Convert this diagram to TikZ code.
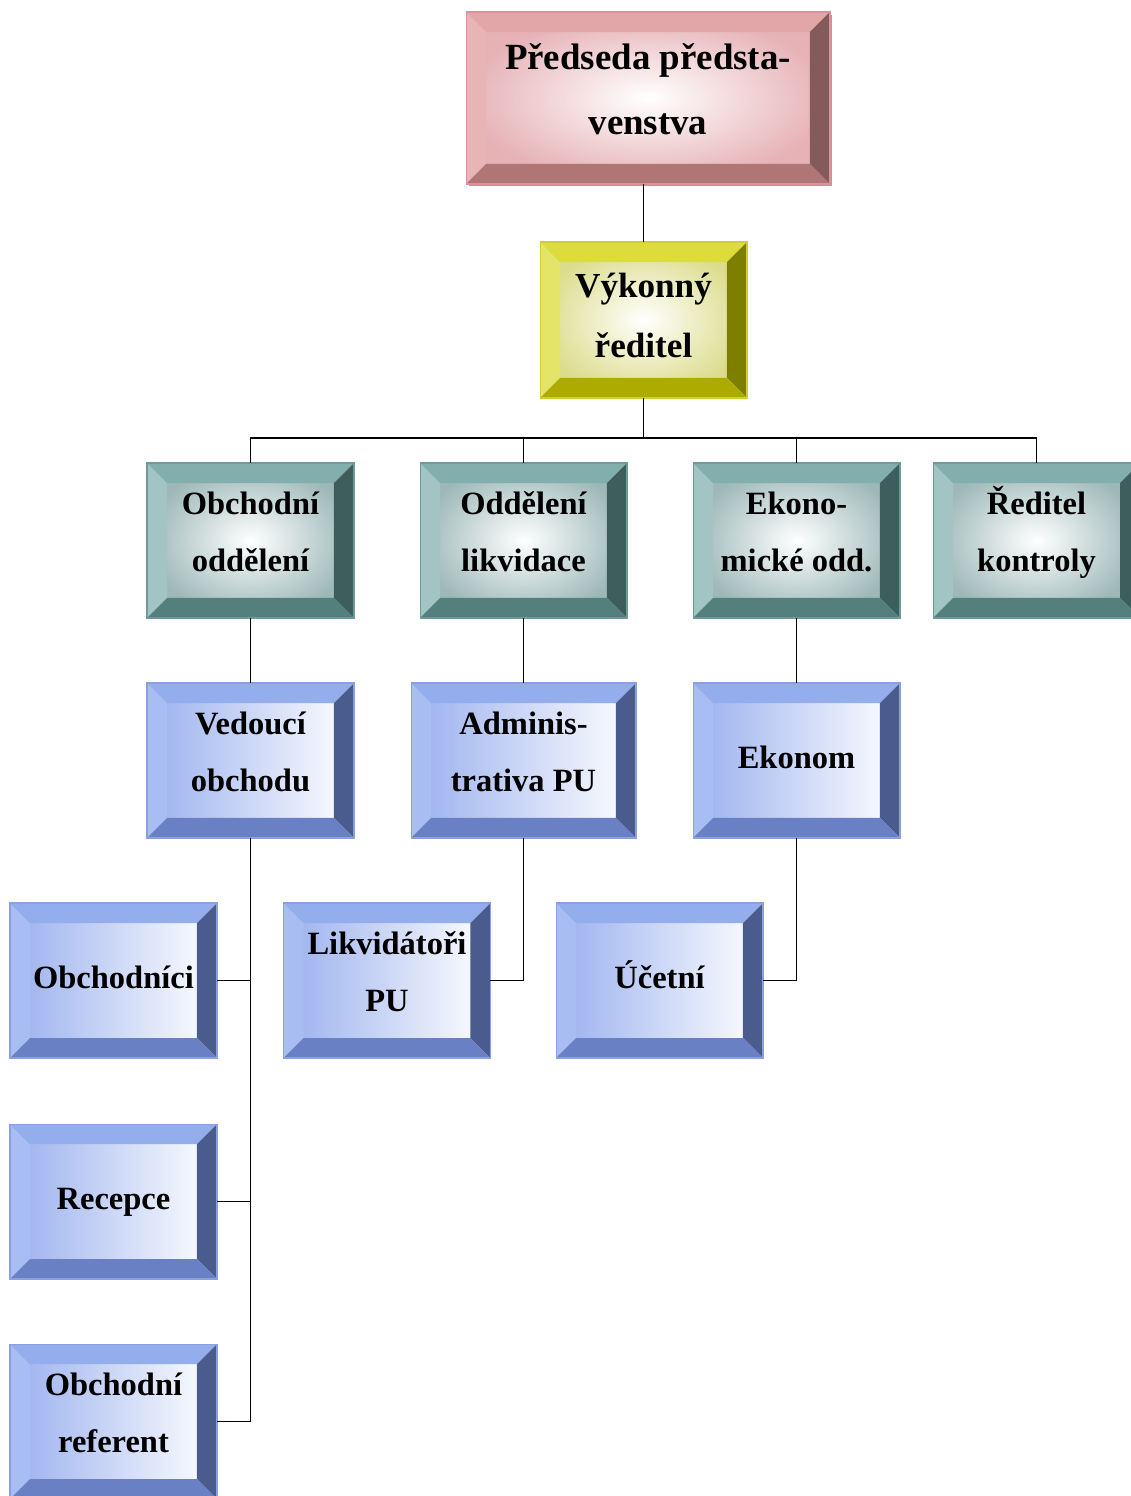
\documentclass[tikz,border=0pt]{standalone}
\usepackage{fontspec}
\setmainfont{Liberation Serif}
\usetikzlibrary{positioning,calc,shadows}
\definecolor{pinkL}{HTML}{E8B4B6}
\definecolor{pinkT}{HTML}{E2A6A8}
\definecolor{pinkR}{HTML}{845A5A}
\definecolor{pinkB}{HTML}{B07676}
\definecolor{pinkIn}{HTML}{E6B2B6}
\definecolor{pinkLine}{HTML}{D8949A}
\definecolor{yelL}{HTML}{E4E468}
\definecolor{yelT}{HTML}{DCDC3C}
\definecolor{yelR}{HTML}{7E7E00}
\definecolor{yelB}{HTML}{ABAB00}
\definecolor{yelIn}{HTML}{DCDC8C}
\definecolor{yelLine}{HTML}{CFCF30}
\definecolor{tealL}{HTML}{A2C4C2}
\definecolor{tealT}{HTML}{82AFAD}
\definecolor{tealR}{HTML}{3E5E5D}
\definecolor{tealB}{HTML}{537F7D}
\definecolor{tealIn}{HTML}{9DB8B7}
\definecolor{tealLine}{HTML}{6E9A98}
\definecolor{bluL}{HTML}{A8BEF2}
\definecolor{bluT}{HTML}{93ADED}
\definecolor{bluR}{HTML}{4A5C8E}
\definecolor{bluB}{HTML}{6A80C4}
\definecolor{bluIn}{HTML}{9AB0EE}
\definecolor{bluLine}{HTML}{8AA0E0}
\tikzset{
  orgbox/.style={
    rectangle, minimum width=4.14cm, minimum height=3.1cm,
    text height=2.17cm, text depth=0.93cm,
    inner sep=0pt, outer sep=0pt, align=center, line width=0.6pt,
    font=\fontsize{18.5}{32.5}\selectfont\bfseries
  },
  oneline/.style={text height=1.70cm, text depth=1.40cm},
  bevel/.style n args={4}{path picture={
    \coordinate (sw) at (path picture bounding box.south west);
    \coordinate (ne) at (path picture bounding box.north east);
    \coordinate (nw) at (sw |- ne);
    \coordinate (se) at (ne |- sw);
    \fill[#1] (sw) -- (nw) -- ([shift={(0.4cm,-0.4cm)}]nw) -- ([shift={(0.4cm,0.4cm)}]sw) -- cycle;
    \fill[#2] (nw) -- (ne) -- ([shift={(-0.4cm,-0.4cm)}]ne) -- ([shift={(0.4cm,-0.4cm)}]nw) -- cycle;
    \fill[#3] (ne) -- (se) -- ([shift={(-0.4cm,0.4cm)}]se) -- ([shift={(-0.4cm,-0.4cm)}]ne) -- cycle;
    \fill[#4] (sw) -- (se) -- ([shift={(-0.4cm,0.4cm)}]se) -- ([shift={(0.4cm,0.4cm)}]sw) -- cycle;
  }},
  pinkbox/.style={orgbox, draw=pinkLine, inner color=white, outer color=pinkIn,
    bevel={pinkL}{pinkT}{pinkR}{pinkB},
    drop shadow={shadow xshift=0.05cm, shadow yshift=-0.05cm, fill=pinkR, opacity=0.6},
    text height=2.46cm, text depth=0.98cm,
    font=\fontsize{21}{37}\selectfont\bfseries},
  yelbox/.style={orgbox, draw=yelLine, inner color=white, outer color=yelIn,
    bevel={yelL}{yelT}{yelR}{yelB}, text height=2.32cm, text depth=0.80cm,
    font=\fontsize{20}{34.6}\selectfont\bfseries},
  tealbox/.style={orgbox, draw=tealLine, inner color=white, outer color=tealIn,
    bevel={tealL}{tealT}{tealR}{tealB}},
  blubox/.style={orgbox, draw=bluLine, left color=bluIn, right color=white,
    bevel={bluL}{bluT}{bluR}{bluB}},
  conn/.style={draw=black, line width=1.1pt},
}
\begin{document}
\begin{tikzpicture}[x=0.02cm, y=-0.02cm]
  \useasboundingbox (0,0) rectangle (1131,1496);
  \coordinate (bus) at (643.5,438);
  \node (board) [pinkbox, minimum width=7.28cm, minimum height=3.44cm] at (648,98) {Předseda předsta-\\venstva};
  \node (ceo) [yelbox, minimum height=3.12cm] at (643.5,320) {Výkonný\\ředitel};
  \node (sales) [tealbox] at (250.5,540.5) {Obchodní\\oddělení};
  \node (liq) [tealbox] at (523.5,540.5) {Oddělení\\likvidace};
  \node (econ) [tealbox] at (796.5,540.5) {Ekono-\\mické odd.};
  \node (audit) [tealbox] at (1036.5,540.5) {Ředitel\\kontroly};
  \node (salesmgr) [blubox] at (250.5,760.5) {Vedoucí\\obchodu};
  \node (admin) [blubox, minimum width=4.5cm] at (523.5,760.5) {Adminis-\\trativa PU};
  \node (economist) [blubox, oneline] at (796.5,760.5) {Ekonom};
  \node (traders) [blubox, oneline] at (113.5,980.5) {Obchodníci};
  \node (adjusters) [blubox] at (387,980.5) {Likvidátoři\\PU};
  \node (accounts) [blubox, oneline] at (659.5,980.5) {Účetní};
  \node (reception) [blubox, oneline] at (113.5,1201.5) {Recepce};
  \node (clerk) [blubox] at (113.5,1421.5) {Obchodní\\referent};

  \draw[conn] (ceo.north) -- (ceo.north |- board.south);
  \draw[conn] (ceo.south) -- (bus);
  \foreach \n in {sales, liq, econ, audit}
    \draw[conn] (bus) -| (\n.north);
  \draw[conn] (sales.south) -- (salesmgr.north);
  \draw[conn] (liq.south) -- (admin.north);
  \draw[conn] (econ.south) -- (economist.north);
  \foreach \n in {traders, reception, clerk}
    \draw[conn] (salesmgr.south) |- (\n.east);
  \draw[conn] (admin.south) |- (adjusters.east);
  \draw[conn] (economist.south) |- (accounts.east);
\end{tikzpicture}
\end{document}
